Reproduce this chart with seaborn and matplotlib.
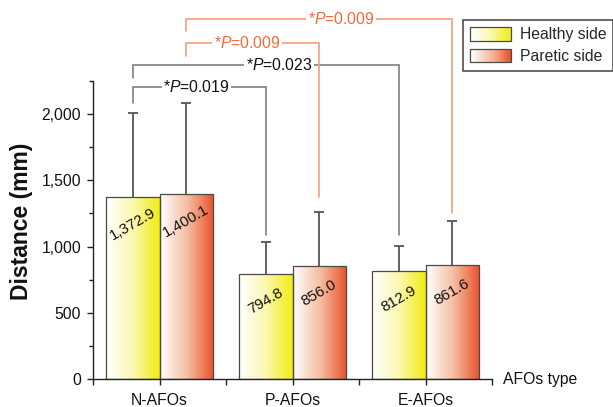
import numpy as np
import pandas as pd
import matplotlib
matplotlib.use("Agg")
import matplotlib.pyplot as plt
import seaborn as sns
from matplotlib.colors import LinearSegmentedColormap
from matplotlib.patches import Rectangle, Patch
from matplotlib.legend_handler import HandlerBase
from matplotlib.ticker import FuncFormatter, MultipleLocator, FixedLocator

# ---------------- data ----------------
categories = ["N-AFOs", "P-AFOs", "E-AFOs"]
sides = ["Healthy side", "Paretic side"]
healthy_mean = [1372.9, 794.8, 812.9]
paretic_mean = [1400.1, 856.0, 861.6]
healthy_sd = [632, 240, 192]
paretic_sd = [680, 405, 331]
y_ticks = [0, 500, 1000, 1500, 2000]
x_title = "AFOs type"
y_title = "Distance (mm)"
# significance brackets: (bar index a, bar index b, p label)
# bar order: N-H, N-P, P-H, P-P, E-H, E-P
sig_pairs = [(0, 2, "0.019"), (0, 4, "0.023"), (1, 3, "0.009"), (1, 5, "0.009")]

# ---------------- style ----------------
sns.set_style("ticks")
plt.rcParams["font.family"] = ["Liberation Sans", "DejaVu Sans"]
plt.rcParams["mathtext.fontset"] = "custom"
plt.rcParams["mathtext.it"] = "Liberation Sans:italic"
plt.rcParams["mathtext.rm"] = "Liberation Sans"

FS = 11.3
cmap_h = LinearSegmentedColormap.from_list("h", ["#ffffff", "#fbf8b0", "#f2ec12"])
cmap_p = LinearSegmentedColormap.from_list("p", ["#ffffff", "#f6bfa4", "#e9522a"])
edge_col = "#4a4a4a"

df = pd.DataFrame({
    "AFO": categories * 2,
    "Side": [sides[0]] * 3 + [sides[1]] * 3,
    "Distance": healthy_mean + paretic_mean,
})

fig = plt.figure(figsize=(6.13, 4.07), dpi=100)
ax = fig.add_axes([93 / 613, 1 - 379.3 / 407, (492 - 93) / 613, (379.3 - 80.8) / 407])

sns.barplot(data=df, x="AFO", y="Distance", hue="Side", order=categories,
            hue_order=sides, errorbar=None, width=0.8, legend=False, ax=ax,
            edgecolor=edge_col, linewidth=0.9)

ax.set_xlim(-0.5, 2.5)
ax.set_ylim(0, 2250)

patches = sorted(ax.patches, key=lambda p: p.get_x())
means = [healthy_mean[0], paretic_mean[0], healthy_mean[1], paretic_mean[1],
         healthy_mean[2], paretic_mean[2]]
sds = [healthy_sd[0], paretic_sd[0], healthy_sd[1], paretic_sd[1],
       healthy_sd[2], paretic_sd[2]]

grad = np.linspace(0, 1, 256).reshape(1, -1)
centers = []
for i, p in enumerate(patches):
    x0, w, h = p.get_x(), p.get_width(), p.get_height()
    centers.append(x0 + w / 2)
    cmap = cmap_h if i % 2 == 0 else cmap_p
    im = ax.imshow(grad, cmap=cmap, extent=[x0, x0 + w, 0, h], aspect="auto",
                   zorder=0.8, interpolation="bilinear")
    im.set_clip_path(p)
    p.set_facecolor("none")
    p.set_zorder(1.2)

ax.set_xlim(-0.5, 2.5)
ax.set_ylim(0, 2250)

# error bars (upper only)
eb = ax.errorbar(centers, means, yerr=[np.zeros(len(sds)), sds], fmt="none",
                 ecolor="#555555", elinewidth=1.3, capsize=3.8, capthick=1.3,
                 zorder=1.1)
caps = eb[1]
if len(caps) >= 2:
    caps[0].set_visible(False)

# value labels
for xc, m in zip(centers, means):
    ax.text(xc, m - 205, f"{m:,.1f}", rotation=30, ha="center", va="center",
            fontsize=FS - 0.3, color="#111111", zorder=3)

# significance brackets (y levels in data units)
gray_line, gray_txt = "#7f7f7f", "#111111"
or_line, or_txt = "#f2a07c", "#f26a3a"
bracket_style = [
    # y_line, y_left_end, y_right_end, text_x, line col, text col
    (2205, 2085, 1088, 0.276, gray_line, gray_txt),
    (2367, 2271, 1088, 0.898, gray_line, gray_txt),
    (2537, 2436, 1376, 0.658, or_line, or_txt),
    (2713, 2625, 1253, 1.366, or_line, or_txt),
]
for (a, b, pv), (yl, ya, yb, tx, lc, tc) in zip(sig_pairs, bracket_style):
    xa, xb = centers[a], centers[b]
    ax.plot([xa, xa, xb, xb], [ya, yl, yl, yb], color=lc, lw=1.2,
            clip_on=False, zorder=2, solid_joinstyle="miter")
    ax.text(tx, yl, r"*$\it{P}$=" + pv, ha="center", va="center", fontsize=FS,
            color=tc, zorder=3, clip_on=False,
            bbox=dict(facecolor="white", edgecolor="none", pad=1.0))

# axes styling
sns.despine(ax=ax)
for s in ["left", "bottom"]:
    ax.spines[s].set_color("#222222")
    ax.spines[s].set_linewidth(1.0)
ax.yaxis.set_major_locator(FixedLocator(y_ticks))
ax.yaxis.set_minor_locator(MultipleLocator(250))
ax.yaxis.set_major_formatter(FuncFormatter(lambda v, _: f"{v:,.0f}"))
ax.xaxis.set_minor_locator(FixedLocator([-0.5, 0.5, 1.5, 2.5]))
ax.tick_params(axis="y", which="major", length=4.5, width=1.0, labelsize=FS,
               pad=4, color="#222222", labelcolor="#111111")
ax.tick_params(axis="y", which="minor", length=3, width=1.0, color="#222222")
ax.tick_params(axis="x", which="both", length=4, width=1.0, labelsize=FS,
               pad=6, color="#222222", labelcolor="#111111")
ax.set_xlabel("")
ax.set_ylabel(y_title, fontsize=16.5, fontweight="bold", color="#111111")
ax.yaxis.set_label_coords(-0.15, 0.53)
ax.text(2.5 + 0.085, 0, x_title, ha="left", va="center", fontsize=FS,
        color="#111111", clip_on=False)

# legend with gradient handles
class GradHandler(HandlerBase):
    def __init__(self, cmap):
        super().__init__()
        self.cmap = cmap

    def create_artists(self, legend, orig_handle, xdescent, ydescent, width,
                       height, fontsize, trans):
        arts = []
        n = 40
        dw = width / n
        for k in range(n):
            r = Rectangle((-xdescent + k * dw, -ydescent), dw * 1.3, height,
                          facecolor=self.cmap(k / (n - 1)), edgecolor="none",
                          lw=0, transform=trans)
            arts.append(r)
        arts.append(Rectangle((-xdescent, -ydescent), width, height,
                              facecolor="none", edgecolor=edge_col, lw=0.9,
                              transform=trans))
        return arts

h1, h2 = Patch(label=sides[0]), Patch(label=sides[1])
leg = fig.legend([h1, h2], sides, loc="upper left",
                 bbox_to_anchor=(463 / 613, 1 - 20 / 407),
                 bbox_transform=fig.transFigure, frameon=True, fancybox=False,
                 edgecolor="#111111", fontsize=FS, borderpad=0.45,
                 handlelength=2.6, handleheight=0.95, handletextpad=0.55,
                 labelspacing=0.4, borderaxespad=0,
                 handler_map={h1: GradHandler(cmap_h), h2: GradHandler(cmap_p)})
leg.get_frame().set_linewidth(1.1)

fig.savefig("out.png", dpi=100)
